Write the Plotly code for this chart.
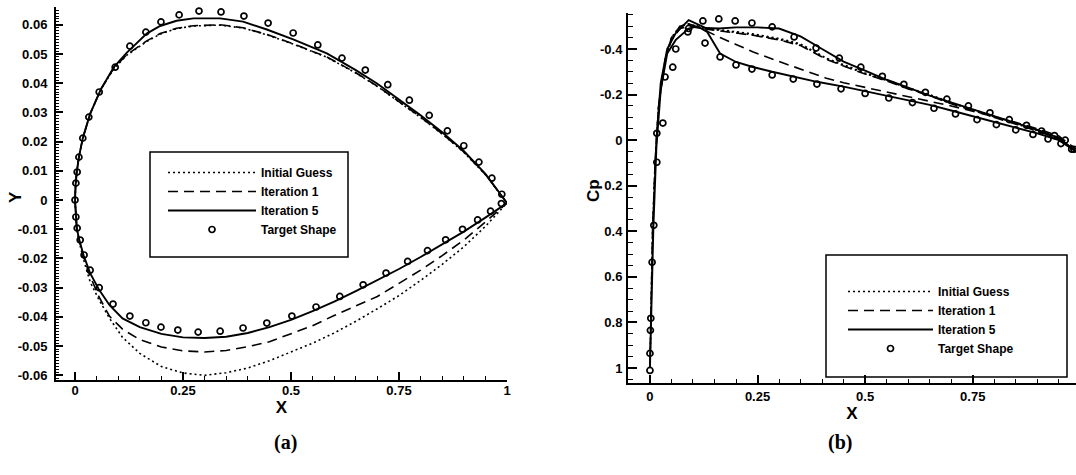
import plotly.graph_objects as go

# ---------------- Panel (a): airfoil shapes ----------------
A_UP_X = [0.0, 0.0015, 0.004, 0.009, 0.018, 0.035, 0.06, 0.09, 0.12, 0.166, 0.197, 0.235, 0.274,
          0.336, 0.389, 0.444, 0.505, 0.583, 0.65, 0.7, 0.75, 0.8, 0.85, 0.9, 0.95, 1.0]
A_UP_Y_INIT = [0.0, 0.0055, 0.0096, 0.0147, 0.0212, 0.0295, 0.0379, 0.045, 0.0496, 0.0543, 0.0568,
               0.0587, 0.0596, 0.0599, 0.0589, 0.0566, 0.0534, 0.0489, 0.0435, 0.0389, 0.0337,
               0.0283, 0.0226, 0.0164, 0.0087, -0.001]
A_UP_Y_IT1 = [0.0, 0.0055, 0.0096, 0.0147, 0.0212, 0.0295, 0.038, 0.0452, 0.0498, 0.0545, 0.057,
              0.0588, 0.0597, 0.06, 0.059, 0.0567, 0.0535, 0.049, 0.0436, 0.039, 0.0338, 0.0284,
              0.0227, 0.0165, 0.0088, -0.001]
A_UP_Y_IT5 = [0.0, 0.0055, 0.0096, 0.0147, 0.0212, 0.0295, 0.038, 0.0455, 0.0505, 0.057, 0.0596,
              0.0614, 0.0622, 0.0622, 0.0611, 0.0584, 0.055, 0.0502, 0.0445, 0.0398, 0.0345,
              0.029, 0.0232, 0.0168, 0.009, -0.001]

A_LO_X = [0.0, 0.0015, 0.004, 0.01, 0.02, 0.035, 0.055, 0.08, 0.11, 0.15, 0.2, 0.25, 0.3, 0.35,
          0.4, 0.45, 0.5, 0.55, 0.6, 0.65, 0.7, 0.75, 0.8, 0.85, 0.9, 0.95, 1.0]
A_LO_Y_INIT = [0.0, -0.0055, -0.0096, -0.0145, -0.0205, -0.028, -0.034, -0.0405, -0.047, -0.0525,
               -0.057, -0.0592, -0.06, -0.0591, -0.0575, -0.055, -0.052, -0.049, -0.0455,
               -0.0415, -0.0372, -0.0327, -0.0275, -0.022, -0.016, -0.009, -0.001]
A_LO_Y_IT1 = [0.0, -0.0055, -0.0096, -0.014, -0.0195, -0.026, -0.033, -0.0398, -0.0442, -0.0478,
              -0.0503, -0.0516, -0.052, -0.0515, -0.0502, -0.0485, -0.0458, -0.043, -0.0395,
              -0.0363, -0.033, -0.0285, -0.024, -0.019, -0.0137, -0.0075, -0.001]
A_LO_Y_IT5 = [0.0, -0.0055, -0.0096, -0.0137, -0.019, -0.025, -0.0305, -0.036, -0.0405, -0.0435,
              -0.0458, -0.047, -0.0472, -0.0468, -0.0455, -0.0435, -0.041, -0.038, -0.0348,
              -0.0312, -0.0275, -0.0236, -0.0195, -0.0152, -0.0108, -0.006, -0.001]

A_TGT_UP_X = [0.0, 0.002, 0.005, 0.009, 0.018, 0.032, 0.056, 0.093, 0.127, 0.164, 0.199, 0.241,
              0.287, 0.338, 0.391, 0.447, 0.505, 0.562, 0.618, 0.672, 0.724, 0.774, 0.82, 0.862,
              0.9, 0.935, 0.965, 0.988]
A_TGT_UP_Y = [0.0, 0.0058, 0.0096, 0.0147, 0.0212, 0.0284, 0.037, 0.0455, 0.0527, 0.0575, 0.061,
              0.0634, 0.0647, 0.0644, 0.063, 0.0606, 0.0572, 0.0531, 0.0486, 0.0445, 0.0395,
              0.0342, 0.029, 0.0237, 0.0186, 0.013, 0.0075, 0.002]
A_TGT_LO_X = [0.002, 0.005, 0.012, 0.021, 0.035, 0.056, 0.088, 0.127, 0.164, 0.199, 0.238, 0.285,
              0.336, 0.389, 0.444, 0.502, 0.558, 0.613, 0.667, 0.72, 0.77, 0.816, 0.858, 0.897,
              0.932, 0.962, 0.987]
A_TGT_LO_Y = [-0.0058, -0.0096, -0.0137, -0.0188, -0.024, -0.030, -0.0356, -0.0397, -0.042,
              -0.0435, -0.0445, -0.0452, -0.0449, -0.0438, -0.0421, -0.0397, -0.0366, -0.033,
              -0.029, -0.025, -0.021, -0.0173, -0.0136, -0.01, -0.0068, -0.0038, -0.0012]

A_XTICKS = [0, 0.25, 0.5, 0.75, 1]
A_XTICKTEXT = ["0", "0.25", "0.5", "0.75", "1"]
A_YTICKS = [-0.06, -0.05, -0.04, -0.03, -0.02, -0.01, 0, 0.01, 0.02, 0.03, 0.04, 0.05, 0.06]
A_YTICKTEXT = ["-0.06", "-0.05", "-0.04", "-0.03", "-0.02", "-0.01", "0",
               "0.01", "0.02", "0.03", "0.04", "0.05", "0.06"]

# ---------------- Panel (b): pressure distributions ----------------
B_UP_X_IT5 = [0.0, 0.003, 0.008, 0.015, 0.025, 0.04, 0.06, 0.09, 0.13, 0.16, 0.2, 0.25, 0.3, 0.35,
              0.4, 0.45, 0.5, 0.55, 0.6, 0.65, 0.7, 0.75, 0.8, 0.85, 0.9, 0.95, 0.99]
B_UP_CP_IT5 = [1.0, 0.7, 0.35, 0.0, -0.25, -0.40, -0.47, -0.527, -0.492, -0.49, -0.495, -0.495,
               -0.49, -0.455, -0.40, -0.345, -0.305, -0.265, -0.23, -0.195, -0.165, -0.135,
               -0.105, -0.075, -0.045, -0.01, 0.05]
B_LO_X_IT5 = [0.0, 0.003, 0.008, 0.015, 0.025, 0.04, 0.06, 0.09, 0.11, 0.133, 0.163, 0.2, 0.237,
              0.284, 0.333, 0.388, 0.45, 0.5, 0.55, 0.6, 0.65, 0.7, 0.75, 0.8, 0.85, 0.9, 0.95, 0.99]
B_LO_CP_IT5 = [1.0, 0.72, 0.38, 0.03, -0.22, -0.38, -0.44, -0.49, -0.5, -0.475, -0.38, -0.343,
               -0.322, -0.30, -0.278, -0.256, -0.235, -0.215, -0.195, -0.175, -0.155, -0.13,
               -0.105, -0.08, -0.055, -0.03, 0.0, 0.05]

B_X = [0.0, 0.002, 0.006, 0.012, 0.02, 0.035, 0.05, 0.07, 0.09, 0.12, 0.163, 0.2, 0.24, 0.3, 0.35,
       0.41, 0.45, 0.5, 0.55, 0.6, 0.65, 0.7, 0.75, 0.8, 0.85, 0.9, 0.95, 0.99]
B_UP_CP_INIT = [1.0, 0.75, 0.4, 0.1, -0.15, -0.35, -0.45, -0.5, -0.51, -0.492, -0.48, -0.472,
                -0.462, -0.442, -0.418, -0.358, -0.327, -0.292, -0.262, -0.227, -0.197, -0.162,
                -0.132, -0.102, -0.072, -0.042, -0.007, 0.05]
B_LO_CP_INIT = [1.0, 0.75, 0.4, 0.1, -0.15, -0.35, -0.45, -0.5, -0.51, -0.495, -0.484, -0.476,
                -0.466, -0.446, -0.422, -0.36, -0.33, -0.295, -0.265, -0.23, -0.2, -0.165,
                -0.135, -0.105, -0.075, -0.045, -0.01, 0.05]
B_UP_CP_IT1 = [1.0, 0.75, 0.4, 0.1, -0.15, -0.35, -0.45, -0.5, -0.51, -0.49, -0.478, -0.47,
               -0.46, -0.44, -0.415, -0.355, -0.325, -0.29, -0.26, -0.225, -0.195, -0.16,
               -0.13, -0.1, -0.07, -0.04, -0.005, 0.05]
B_LO_CP_IT1 = [1.0, 0.75, 0.4, 0.1, -0.15, -0.35, -0.44, -0.49, -0.5, -0.49, -0.45, -0.42,
               -0.387, -0.345, -0.312, -0.272, -0.252, -0.232, -0.212, -0.192, -0.172, -0.15,
               -0.127, -0.103, -0.078, -0.05, -0.018, 0.04]

B_TGT_UP_X = [0.0, 0.002, 0.005, 0.009, 0.016, 0.03, 0.06, 0.09, 0.123, 0.16, 0.198, 0.237, 0.284,
              0.335, 0.386, 0.44, 0.49, 0.54, 0.59, 0.64, 0.69, 0.74, 0.79, 0.835, 0.875, 0.91,
              0.94, 0.965, 0.985]
B_TGT_UP_CP = [0.936, 0.782, 0.536, 0.374, 0.097, -0.075, -0.40, -0.49, -0.523, -0.532, -0.523,
               -0.514, -0.497, -0.453, -0.404, -0.36, -0.32, -0.28, -0.245, -0.21, -0.18, -0.15,
               -0.12, -0.09, -0.065, -0.04, -0.02, 0.0, 0.04]
B_TGT_LO_X = [0.0, 0.001, 0.016, 0.035, 0.053, 0.088, 0.128, 0.163, 0.2, 0.237, 0.284, 0.333,
              0.388, 0.444, 0.5, 0.555, 0.61, 0.66, 0.71, 0.76, 0.805, 0.85, 0.89, 0.925, 0.955,
              0.98]
B_TGT_LO_CP = [1.011, 0.835, -0.03, -0.277, -0.32, -0.475, -0.426, -0.365, -0.33, -0.312, -0.286,
               -0.268, -0.246, -0.225, -0.205, -0.185, -0.165, -0.14, -0.115, -0.09, -0.068,
               -0.045, -0.025, -0.005, 0.015, 0.04]

B_XTICKS = [0, 0.25, 0.5, 0.75]
B_XTICKTEXT = ["0", "0.25", "0.5", "0.75"]
B_YTICKS = [-0.4, -0.2, 0, 0.2, 0.4, 0.6, 0.8, 1]
B_YTICKTEXT = ["-0.4", "-0.2", "0", "0.2", "0.4", "0.6", "0.8", "1"]

SERIES = ["Initial Guess", "Iteration 1", "Iteration 5", "Target Shape"]

# ---------------- helpers ----------------
W, H = 1076, 475
FONT = "Liberation Sans"
STYLES = {
    "Initial Guess": dict(color="black", width=1.6, dash="2px,3px"),
    "Iteration 1": dict(color="black", width=1.6, dash="10px,6px"),
    "Iteration 5": dict(color="black", width=1.9),
}


def loop(up_x, up_y, lo_x, lo_y):
    xs = list(reversed(up_x)) + list(lo_x[1:])
    ys = list(reversed(up_y)) + list(lo_y[1:])
    return xs, ys


def px_x(p):
    return p / W


def px_y(p):
    return 1 - p / H


fig = go.Figure()

# panel (a)
a_curves = {
    "Initial Guess": loop(A_UP_X, A_UP_Y_INIT, A_LO_X, A_LO_Y_INIT),
    "Iteration 1": loop(A_UP_X, A_UP_Y_IT1, A_LO_X, A_LO_Y_IT1),
    "Iteration 5": loop(A_UP_X, A_UP_Y_IT5, A_LO_X, A_LO_Y_IT5),
}
for name in SERIES[:3]:
    xs, ys = a_curves[name]
    fig.add_trace(go.Scatter(x=xs, y=ys, mode="lines", name=name, line=STYLES[name],
                             xaxis="x", yaxis="y", legend="legend"))
fig.add_trace(go.Scatter(x=A_TGT_UP_X + A_TGT_LO_X, y=A_TGT_UP_Y + A_TGT_LO_Y, mode="markers",
                         name="Target Shape",
                         marker=dict(symbol="circle-open", size=6, color="black",
                                     line=dict(width=1.7, color="black")),
                         xaxis="x", yaxis="y", legend="legend"))

# panel (b)
b_curves = {
    "Initial Guess": loop(B_X, B_UP_CP_INIT, B_X, B_LO_CP_INIT),
    "Iteration 1": loop(B_X, B_UP_CP_IT1, B_X, B_LO_CP_IT1),
    "Iteration 5": loop(B_UP_X_IT5, B_UP_CP_IT5, B_LO_X_IT5, B_LO_CP_IT5),
}
for name in SERIES[:3]:
    xs, ys = b_curves[name]
    fig.add_trace(go.Scatter(x=xs, y=ys, mode="lines", name=name, line=STYLES[name],
                             xaxis="x2", yaxis="y2", legend="legend2"))
fig.add_trace(go.Scatter(x=B_TGT_UP_X + B_TGT_LO_X, y=B_TGT_UP_CP + B_TGT_LO_CP, mode="markers",
                         name="Target Shape",
                         marker=dict(symbol="circle-open", size=6, color="black",
                                     line=dict(width=1.7, color="black")),
                         xaxis="x2", yaxis="y2", legend="legend2"))

tickfont = dict(family=FONT, size=13, color="black", weight="bold")
titlefont = dict(family=FONT, size=17, color="black", weight="bold")
common = dict(showline=True, linewidth=2, linecolor="black", showgrid=False, zeroline=False,
              ticks="inside", tickcolor="black", tickwidth=1.5, tickfont=tickfont,
              mirror=False, automargin=False)

fig.update_layout(
    width=W, height=H,
    margin=dict(l=0, r=0, t=0, b=0, autoexpand=False),
    paper_bgcolor="white", plot_bgcolor="white",
    xaxis=dict(domain=[px_x(56), px_x(507)], range=[-0.044, 1.0], anchor="y",
               tickvals=A_XTICKS, ticktext=A_XTICKTEXT, ticklen=8, ticklabelstandoff=-3,
               minor=dict(tick0=0, dtick=0.05, ticklen=4, ticks="inside", tickcolor="black",
                          tickwidth=1.2),
               title=dict(text="X", font=titlefont, standoff=0), **common),
    yaxis=dict(domain=[px_y(380), px_y(7)], range=[-0.0616, 0.0661], anchor="x",
               tickvals=A_YTICKS, ticktext=A_YTICKTEXT, ticklen=7, ticklabelstandoff=4,
               minor=dict(tick0=0, dtick=0.001, ticklen=3, ticks="inside", tickcolor="black",
                          tickwidth=1),
               **common),
    xaxis2=dict(domain=[px_x(628), 1.0], range=[-0.051, 0.99], anchor="y2",
                tickvals=B_XTICKS, ticktext=B_XTICKTEXT, ticklen=8, ticklabelstandoff=0,
                minor=dict(tick0=0, dtick=0.05, ticklen=4, ticks="inside", tickcolor="black",
                           tickwidth=1.2),
                title=dict(text="X", font=titlefont, standoff=0), **common),
    yaxis2=dict(domain=[px_y(383), px_y(13)], range=[1.066, -0.558], anchor="x2",
                tickvals=B_YTICKS, ticktext=B_YTICKTEXT, ticklen=9, ticklabelstandoff=1,
                minor=dict(tick0=0, dtick=0.05, ticklen=5, ticks="inside", tickcolor="black",
                           tickwidth=1.2),
                **common),
    legend=dict(x=px_x(163), y=px_y(158), xanchor="left", yanchor="top",
                bgcolor="rgba(0,0,0,0)", borderwidth=0, itemwidth=88, tracegroupgap=0,
                font=dict(family=FONT, size=12, color="black", weight="bold")),
    legend2=dict(x=px_x(843), y=px_y(277), xanchor="left", yanchor="top",
                 bgcolor="rgba(0,0,0,0)", borderwidth=0, itemwidth=85, tracegroupgap=0,
                 font=dict(family=FONT, size=12, color="black", weight="bold")),
    shapes=[
        dict(type="rect", xref="paper", yref="paper", x0=px_x(150), x1=px_x(348),
             y0=px_y(257), y1=px_y(152), line=dict(color="black", width=1.5),
             fillcolor="white", layer="below"),
        dict(type="rect", xref="paper", yref="paper", x0=px_x(826), x1=px_x(1067),
             y0=px_y(377), y1=px_y(255), line=dict(color="black", width=1.5),
             fillcolor="white", layer="below"),
    ],
    annotations=[
        dict(text="Y", x=px_x(15), y=px_y(197), xref="paper", yref="paper", textangle=-90,
             xanchor="center", yanchor="middle", showarrow=False, font=titlefont),
        dict(text="Cp", x=px_x(593), y=px_y(191), xref="paper", yref="paper", textangle=-90,
             xanchor="center", yanchor="middle", showarrow=False, font=titlefont),
        dict(text="(a)", x=px_x(285), y=px_y(442), xref="paper", yref="paper",
             xanchor="center", yanchor="middle", showarrow=False,
             font=dict(family="Liberation Serif", size=20, color="black", weight="bold")),
        dict(text="(b)", x=px_x(840), y=px_y(442), xref="paper", yref="paper",
             xanchor="center", yanchor="middle", showarrow=False,
             font=dict(family="Liberation Serif", size=20, color="black", weight="bold")),
    ],
)

fig.write_html("out.html", config={"displayModeBar": False},
               post_script="document.body.style.margin='0px';")
